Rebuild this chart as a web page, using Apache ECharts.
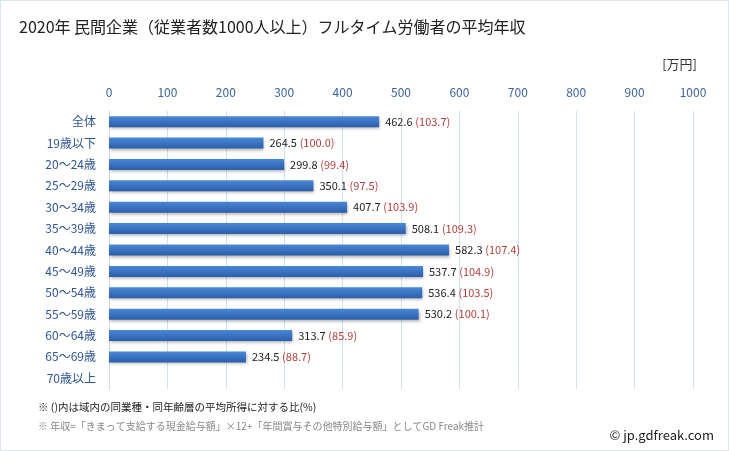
<!DOCTYPE html>
<html><head><meta charset="utf-8">
<script src="https://cdn.jsdelivr.net/npm/echarts@6/dist/echarts.min.js"></script>
<style>html,body{margin:0;padding:0;background:#fff}#c{width:729px;height:451px;box-sizing:border-box;border:1px solid #dce6f0}</style>
</head><body><div id="c"></div>
<script>
const categories = ['全体','19歳以下','20～24歳','25～29歳','30～34歳','35～39歳','40～44歳','45～49歳','50～54歳','55～59歳','60～64歳','65～69歳','70歳以上'];
const values = [462.6,264.5,299.8,350.1,407.7,508.1,582.3,537.7,536.4,530.2,313.7,234.5,null];
const ratios = [103.7,100.0,99.4,97.5,103.9,109.3,107.4,104.9,103.5,100.1,85.9,88.7,null];
const xTicks = [0,100,200,300,400,500,600,700,800,900,1000];

const font = '"Noto Sans CJK JP", "Noto Sans", sans-serif';
const chart = echarts.init(document.getElementById('c'), null, {renderer:'canvas'});
chart.setOption({
  animation:false,
  textStyle:{fontFamily:font},
  title:{text:'2020年 民間企業（従業者数1000人以上）フルタイム労働者の平均年収',left:13,top:13,
    textStyle:{fontFamily:font,fontSize:16,fontWeight:'normal',color:'#222'}},
  grid:{left:108,right:35,top:110,bottom:61,containLabel:false},
  xAxis:{type:'value',position:'top',min:xTicks[0],max:xTicks[xTicks.length-1],interval:100,
    axisLine:{show:false},axisTick:{show:false},
    axisLabel:{color:'#3d6496',fontSize:12,margin:13,fontFamily:font,formatter:v=>String(v)},
    splitLine:{lineStyle:{color:'#d3e0ee',width:1}}},
  yAxis:{type:'category',inverse:true,data:categories,
    axisLine:{show:true,lineStyle:{color:'#cfd6de'}},axisTick:{show:false},
    axisLabel:{color:'#2f5593',fontSize:12,margin:13,fontFamily:font}},
  graphic:[
    {type:'text',right:31,top:57,style:{text:'[万円]',fontSize:13,fill:'#333',fontFamily:font}},
    {type:'text',left:37,top:401,style:{text:'※ ()内は域内の同業種・同年齢層の平均所得に対する比(%)',fontSize:10.5,fill:'#222',fontFamily:font}},
    {type:'text',left:37,top:420,style:{text:'※ 年収=「きまって支給する現金給与額」×12+「年間賞与その他特別給与額」としてGD Freak推計',fontSize:10,fill:'#888',fontFamily:font}},
    {type:'text',right:14,top:428,style:{text:'© jp.gdfreak.com',fontSize:13,fill:'#222',fontFamily:font}}
  ],
  series:[{type:'bar',data:values,barWidth:11,
    itemStyle:{color:new echarts.graphic.LinearGradient(0,0,0,1,[{offset:0,color:'#4a88d6'},{offset:0.5,color:'#3a73c2'},{offset:1,color:'#2c5ea6'}]),
      shadowColor:'rgba(0,0,0,0.3)',shadowBlur:3,shadowOffsetX:1,shadowOffsetY:2},
    label:{show:true,position:'right',distance:6,fontFamily:font,
      formatter:p=>p.value==null?'':'{v|'+p.value.toFixed(1)+'} {r|('+ratios[p.dataIndex].toFixed(1)+')}',
      rich:{v:{color:'#222',fontSize:11,fontFamily:font},r:{color:'#b0403c',fontSize:11,fontFamily:font}}}
  }]
});
</script></body></html>
